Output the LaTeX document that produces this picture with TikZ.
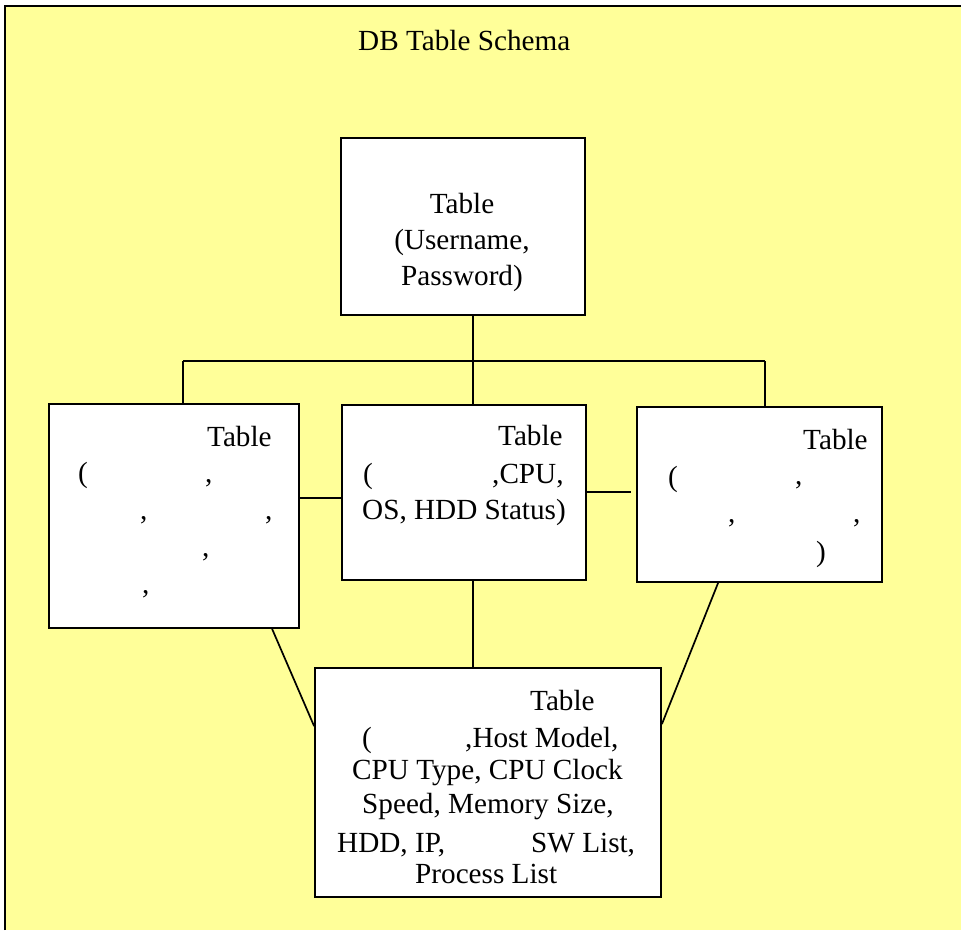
\documentclass[tikz,border=0pt]{standalone}
\usepackage{fontspec}
\setmainfont{Liberation Serif}
\definecolor{bgyellow}{RGB}{255,255,153}
\begin{document}
\begin{tikzpicture}[x=1pt,y=-1pt,
  box/.style={draw=black, line width=1.8pt, fill=white, inner sep=0pt},
  link/.style={draw=black, line width=1.7pt},
  txt/.style={inner sep=0pt, anchor=base west, font=\fontsize{29.2}{36}\selectfont},
  ctxt/.style={txt, anchor=base}]
\useasboundingbox (0,0) rectangle (961,930);
\fill[bgyellow] (5,6) rectangle (961,930);
\draw[line width=2pt] (5,930) -- (5,6) -- (961,6);

\node[txt] (title) at (358,50) {DB Table Schema};

% boxes
\node[box, minimum width=244pt, minimum height=177pt] (top) at (463,226.5) {};
\node[box, minimum width=250pt, minimum height=224pt] (left) at (174,516) {};
\node[box, minimum width=244pt, minimum height=175pt] (mid) at (464,492.5) {};
\node[box, minimum width=245pt, minimum height=175pt] (right) at (759.5,494.5) {};
\node[box, minimum width=346pt, minimum height=229pt] (bot) at (488,782.5) {};

% connectors
\coordinate (busL) at (183,361);
\coordinate (busR) at (765,361);
\coordinate (vx) at (473,0);
\coordinate (lm) at (0,498);
\coordinate (mr) at (0,492);
\draw[link] (vx |- top.south) -- (vx |- mid.north);
\draw[link] (busL) -- (busR);
\draw[link] (busL) -- (busL |- left.north);
\draw[link] (busR) -- (busR |- right.north);
\draw[link] (left.east |- lm) -- (mid.west |- lm);
\draw[link] (mid.east |- mr) -- ([xshift=-5pt]right.west |- mr);
\draw[link] (vx |- mid.south) -- (vx |- bot.north);
\draw[link] ([xshift=224pt]left.south west) -- ([yshift=-59pt]bot.north west);
\draw[link] ([xshift=82pt]right.south west) -- ([yshift=-57pt]bot.north east);

% top box text
\node[ctxt] (t1) at (462,213) {Table};
\node[ctxt] (t2) at (462,249) {(Username,};
\node[ctxt] (t3) at (462,285) {Password)};

% left box text
\node[txt] (l1) at (207,446) {Table};
\node[txt] (l2) at (78,482) {(};
\node[txt] (l3) at (205,482) {,};
\node[txt] (l4) at (140,519) {,};
\node[txt] (l5) at (265,519) {,};
\node[txt] (l6) at (202,556) {,};
\node[txt] (l7) at (142,593) {,};

% middle box text
\node[txt] (m1) at (498,445) {Table};
\node[txt] (m2) at (363,483) {(};
\node[txt] (m3) at (492,483) {,CPU,};
\node[txt] (m4) at (362,519) {OS, HDD Status)};

% right box text
\node[txt] (r1) at (803,449) {Table};
\node[txt] (r2) at (668,486) {(};
\node[txt] (r3) at (795,484) {,};
\node[txt] (r4) at (728,522) {,};
\node[txt] (r5) at (853,522) {,};
\node[txt] (r6) at (816,561) {)};

% bottom box text
\node[txt] (b1) at (530,710) {Table};
\node[txt] (b2) at (362,747) {(};
\node[txt] (b3) at (465,747) {,Host Model,};
\node[txt] (b4) at (352,779) {CPU Type, CPU Clock};
\node[txt] (b5) at (362,813) {Speed, Memory Size,};
\node[txt] (b6) at (337,852) {HDD, IP,};
\node[txt] (b7) at (531,852) {SW List,};
\node[txt] (b8) at (415,883) {Process List};
\end{tikzpicture}
\end{document}
